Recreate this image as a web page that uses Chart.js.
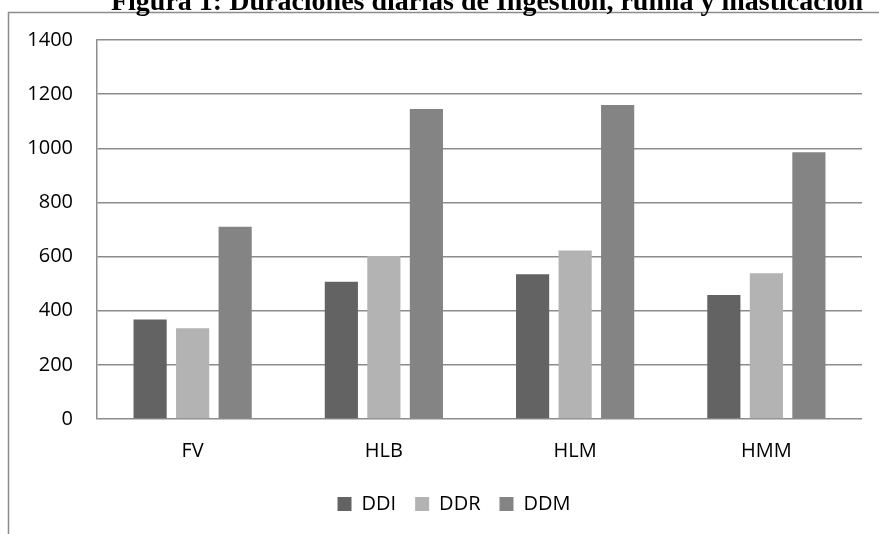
<!DOCTYPE html>
<html>
<head>
<meta charset="utf-8">
<script src="https://cdn.jsdelivr.net/npm/chart.js@4.4.1/dist/chart.umd.min.js"></script>
<style>
  html, body { margin: 0; padding: 0; background: #ffffff; }
  #wrap { position: relative; width: 879px; height: 534px; }
  canvas { display: block; }
</style>
</head>
<body>
<div id="wrap"><canvas id="c" width="879" height="534"></canvas></div>
<script>
const titleText = "Figura 1: Duraciones diarias de Ingestión, rumia y masticación";
const categories = ["FV", "HLB", "HLM", "HMM"];
const seriesNames = ["DDI", "DDR", "DDM"];
const ddi = [368, 507, 535, 458];
const ddr = [335, 602, 622, 538];
const ddm = [710, 1145, 1160, 985];
const yTicks = [0, 200, 400, 600, 800, 1000, 1200, 1400];
const colors = ["#636363", "#b3b3b3", "#848484"];

const frameAndTitle = {
  id: 'frameAndTitle',
  afterLayout(chart) {
    if (chart.legend) {
      chart.legend.left += 23;
      chart.legend.right += 23;
    }
  },
  beforeDraw(chart) {
    const ctx = chart.ctx;
    ctx.save();
    ctx.fillStyle = '#ffffff';
    ctx.fillRect(0, 0, chart.width, chart.height);
    ctx.strokeStyle = '#8c8c8c';
    ctx.lineWidth = 1.5;
    ctx.beginPath();
    ctx.moveTo(8.5, chart.height + 5);
    ctx.lineTo(8.5, 12.5);
    ctx.lineTo(chart.width + 5, 12.5);
    ctx.stroke();
    ctx.restore();
  },
  afterDraw(chart) {
    const ctx = chart.ctx;
    ctx.save();
    ctx.fillStyle = '#000000';
    ctx.font = 'bold 28px "Liberation Serif"';
    ctx.textAlign = 'center';
    ctx.textBaseline = 'alphabetic';
    ctx.fillText(titleText, 487, 10);
    ctx.restore();
  }
};

const fontFam = '"Open Sans"';

new Chart(document.getElementById('c'), {
  type: 'bar',
  data: {
    labels: categories,
    datasets: [
      { label: seriesNames[0], data: ddi, backgroundColor: colors[0] },
      { label: seriesNames[1], data: ddr, backgroundColor: colors[1] },
      { label: seriesNames[2], data: ddm, backgroundColor: colors[2] }
    ]
  },
  options: {
    responsive: false,
    animation: false,
    devicePixelRatio: 1,
    layout: { padding: { top: 40, right: 17, left: 0, bottom: 10 } },
    datasets: { bar: { categoryPercentage: 0.667, barPercentage: 0.78 } },
    plugins: {
      legend: {
        position: 'bottom',
        labels: {
          boxWidth: 14, boxHeight: 14, padding: 19,
          color: '#000000',
          font: { family: fontFam, size: 20 }
        }
      },
      tooltip: { enabled: false }
    },
    scales: {
      x: {
        grid: { display: false, drawTicks: false },
        border: { display: false },
        ticks: { color: '#000000', font: { family: fontFam, size: 20 }, padding: 20 },
        afterFit(s) { s.height = 56; }
      },
      y: {
        min: 0, max: 1400,
        afterBuildTicks(s) { s.ticks = yTicks.map(v => ({ value: v })); },
        grid: { color: '#8c8c8c', lineWidth: 1.5, drawTicks: false },
        border: { display: true, color: '#8c8c8c', width: 1.5 },
        ticks: {
          color: '#000000', font: { family: fontFam, size: 20 }, padding: 24,
          callback: (v) => String(v)
        },
        afterFit(s) { s.width = 97; }
      }
    }
  },
  plugins: [frameAndTitle]
});
</script>
</body>
</html>
